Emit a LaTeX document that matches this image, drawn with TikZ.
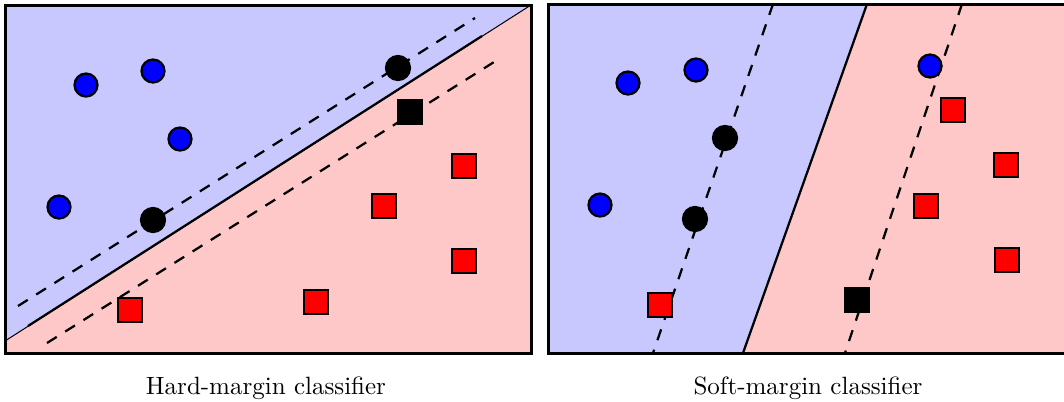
\documentclass[tikz,border=0pt]{standalone}
\definecolor{bluebg}{RGB}{200,200,255}
\definecolor{redbg}{RGB}{255,200,200}
\begin{document}
\begin{tikzpicture}[x=0.4pt,y=-0.4pt,
  bpt/.style={circle,draw=black,line width=0.9pt,fill=blue,minimum size=9.2pt,inner sep=0pt},
  kpt/.style={circle,draw=black,line width=0.5pt,fill=black,minimum size=10pt,inner sep=0pt},
  rsq/.style={rectangle,draw=black,line width=0.9pt,fill=red,minimum size=9.4pt,inner sep=0pt},
  ksq/.style={rectangle,draw=black,line width=0.5pt,fill=black,minimum size=10.2pt,inner sep=0pt},
  frame/.style={line width=1.2pt},
  sep/.style={line width=0.9pt},
  marg/.style={line width=0.9pt,dash pattern=on 4.6pt off 4pt},
  lbl/.style={anchor=base,font=\normalsize}
]
\useasboundingbox (0,0) rectangle (1064,401);
\clip (0,0) rectangle (1064,401);

% ---------- Left panel: hard margin ----------
\fill[redbg] (5,5) rectangle (531,353);
\fill[bluebg] (5,5) -- (531,5) -- (5,341) -- cycle;
\coordinate (hb1) at (5,341);
\coordinate (hb2) at (531,5);
\draw[line width=0.4pt] (hb1) -- (hb2);
\coordinate (hs1) at (28,326);
\coordinate (hs2) at (482,36);
\draw[sep] (hs1) -- (hs2);
\coordinate (hu1) at (18,306);
\coordinate (hu2) at (475,18);
\draw[marg] (hu1) -- (hu2);
\coordinate (hl1) at (47,343);
\coordinate (hl2) at (502,57);
\draw[marg] (hl1) -- (hl2);

\node[bpt] (hb_a) at (86,85) {};
\node[bpt] (hb_b) at (153,71) {};
\node[bpt] (hb_c) at (180,139) {};
\node[bpt] (hb_d) at (59,207) {};
\node[kpt] (hk_a) at (398,68) {};
\node[kpt] (hk_b) at (153,220) {};
\node[ksq] (hq_k) at (410,112) {};
\node[rsq] (hr_a) at (464,166) {};
\node[rsq] (hr_b) at (384,206) {};
\node[rsq] (hr_c) at (464,261) {};
\node[rsq] (hr_d) at (316,302) {};
\node[rsq] (hr_e) at (130,310) {};

\draw[frame] (5,5) rectangle (531,353);
\node[lbl] (hlabel) at (266,394) {Hard-margin classifier};

% ---------- Right panel: soft margin ----------
\fill[bluebg] (548,4) rectangle (1074,353);
\fill[redbg] (867,4) -- (1074,4) -- (1074,353) -- (743,353) -- cycle;
\coordinate (ss1) at (867,4);
\coordinate (ss2) at (743,353);
\draw[sep] (ss1) -- (ss2);
\coordinate (su1) at (773,4);
\coordinate (su2) at (653,353);
\draw[marg] (su1) -- (su2);
\coordinate (sl1) at (962,4);
\coordinate (sl2) at (845,353);
\draw[marg] (sl1) -- (sl2);

\node[bpt] (sb_a) at (628,83) {};
\node[bpt] (sb_b) at (696,70) {};
\node[bpt] (sb_c) at (600,205) {};
\node[bpt] (sb_d) at (930,66) {};
\node[kpt] (sk_a) at (725,138) {};
\node[kpt] (sk_b) at (695,219) {};
\node[rsq] (sr_a) at (660,305) {};
\node[rsq] (sr_b) at (953,110) {};
\node[rsq] (sr_c) at (1006,165) {};
\node[rsq] (sr_d) at (926,206) {};
\node[rsq] (sr_e) at (1007,260) {};
\node[ksq] (sq_k) at (857,300) {};

\draw[frame] (548,4) rectangle (1074,353);
\node[lbl] (slabel) at (808,394) {Soft-margin classifier};
\end{tikzpicture}
\end{document}
